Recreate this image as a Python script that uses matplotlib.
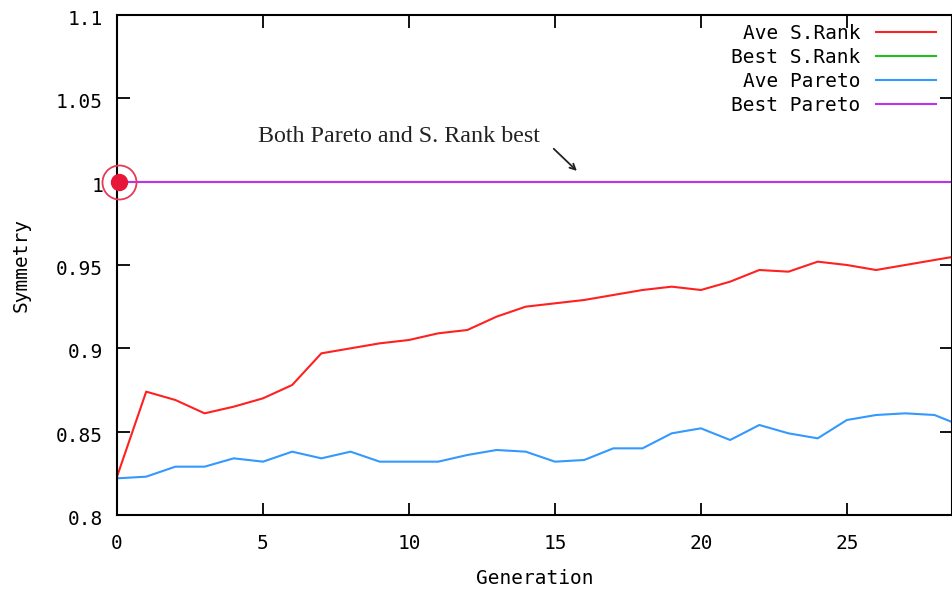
import matplotlib
matplotlib.use("Agg")
import matplotlib.pyplot as plt
from matplotlib.transforms import ScaledTranslation

generations = list(range(30))
ave_srank = [0.823, 0.874, 0.869, 0.861, 0.865, 0.870, 0.878, 0.897, 0.900, 0.903,
             0.905, 0.909, 0.911, 0.919, 0.925, 0.927, 0.929, 0.932, 0.935, 0.937,
             0.935, 0.940, 0.947, 0.946, 0.952, 0.950, 0.947, 0.950, 0.953, 0.956]
best_srank = [1.0] * 30
ave_pareto = [0.822, 0.823, 0.829, 0.829, 0.834, 0.832, 0.838, 0.834, 0.838, 0.832,
              0.832, 0.832, 0.836, 0.839, 0.838, 0.832, 0.833, 0.840, 0.840, 0.849,
              0.852, 0.845, 0.854, 0.849, 0.846, 0.857, 0.860, 0.861, 0.860, 0.853]
best_pareto = [1.0] * 30

yticks = [0.8, 0.85, 0.9, 0.95, 1.0, 1.05, 1.1]
ytick_labels = ["0.8", "0.85", "0.9", "0.95", "1", "1.05", "1.1"]
xticks = [0, 5, 10, 15, 20, 25]

mono = "DejaVu Sans Mono"
fs = 14

fig = plt.figure(figsize=(9.53, 5.90), dpi=100)
ax = fig.add_axes([117/953, 1 - 515/590, (952 - 117)/953, 500/590])

ax.plot(generations, ave_srank, color="#ff2020", lw=1.5, label="Ave S.Rank")
ax.plot(generations, best_srank, color="#20c020", lw=1.5, label="Best S.Rank")
ax.plot(generations, ave_pareto, color="#3399ff", lw=1.5, label="Ave Pareto")
ax.plot(generations, best_pareto, color="#c030f0", lw=1.5, label="Best Pareto")

# highlight marker at start
ax.plot([0.07], [1.0], marker="o", ms=24.5, mfc="none", mec="#e83a55", mew=1.3, clip_on=False, zorder=5)
ax.plot([0.06], [1.0], marker="o", ms=11.5, mfc="#e8173a", mec="#e8173a", clip_on=False, zorder=5)

ax.set_xlim(0, 28.6)
ax.set_ylim(0.8, 1.1)
ax.set_xticks(xticks)
ax.set_xticklabels([str(t) for t in xticks], fontfamily=mono, fontsize=fs)
ax.set_yticks(yticks)
ax.set_yticklabels(ytick_labels, fontfamily=mono, fontsize=fs)
ax.tick_params(direction="in", length=9, width=1.3, top=True, right=True, colors="black")
ax.tick_params(axis="y", pad=10)
ax.tick_params(axis="x", pad=13.5)
for lab in ax.get_yticklabels():
    lab.set_transform(lab.get_transform() + ScaledTranslation(0, -2.5/100, fig.dpi_scale_trans))
for s in ax.spines.values():
    s.set_linewidth(1.5)

ax.set_xlabel("Generation", fontfamily=mono, fontsize=fs, labelpad=11.8)
ax.set_ylabel("Symmetry", fontfamily=mono, fontsize=fs, labelpad=18)

ax.text(9.66, 1.027, "Both Pareto and S. Rank best", fontfamily="Liberation Serif",
        fontsize=17.3, color="#222222", ha="center", va="center")
ax.annotate("", xy=(15.82, 1.0053), xytext=(14.89, 1.0209),
            arrowprops=dict(arrowstyle="->", color="#222222", lw=1.3))

leg = ax.legend(loc="upper right", bbox_to_anchor=(0.981, 0.982), frameon=False,
                markerfirst=False, handlelength=3.1, handletextpad=0.8,
                labelspacing=0.25, borderpad=0, borderaxespad=0,
                prop={"family": mono, "size": fs})

fig.savefig("out.png", dpi=100)
